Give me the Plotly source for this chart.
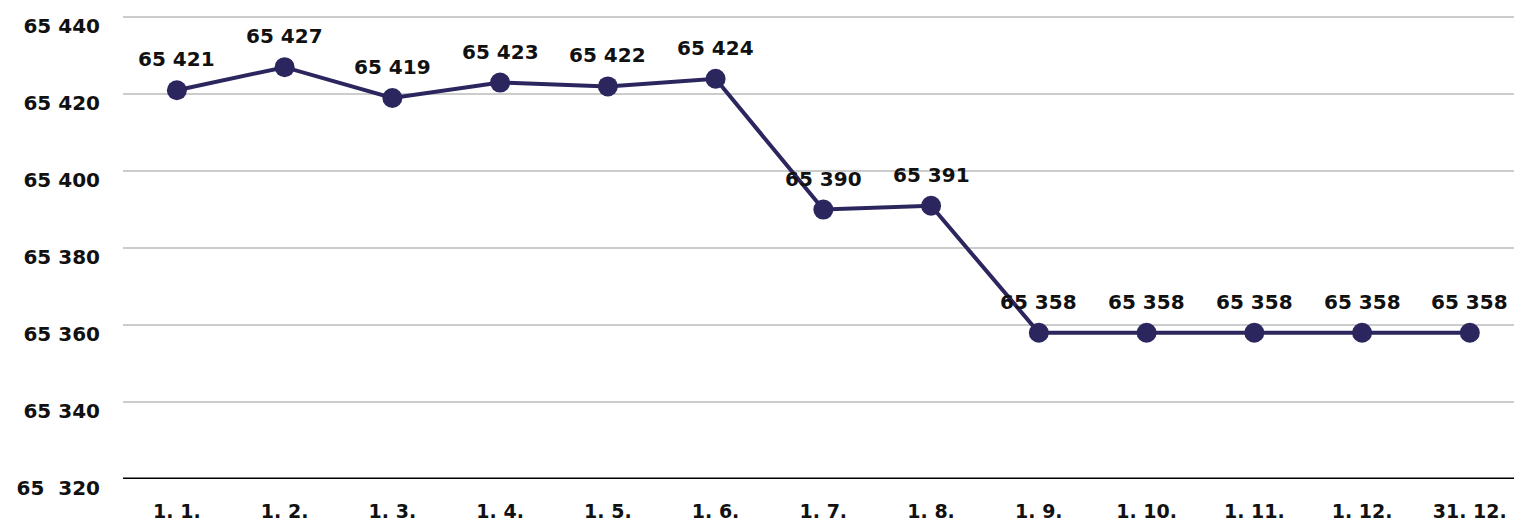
import plotly.graph_objects as go

categories = ["1. 1.", "1. 2.", "1. 3.", "1. 4.", "1. 5.", "1. 6.", "1. 7.", "1. 8.",
              "1. 9.", "1. 10.", "1. 11.", "1. 12.", "31. 12."]
values = [65421, 65427, 65419, 65423, 65422, 65424, 65390, 65391,
          65358, 65358, 65358, 65358, 65358]
y_tickvals = [65320, 65340, 65360, 65380, 65400, 65420, 65440]
y_ticktext = ["65\u00a0\u00a0320", "65 340", "65 360", "65 380", "65 400", "65 420", "65 440"]

labels = [f"{v:,}".replace(",", " ") for v in values]
color = "#2c265f"
FONT = "DejaVu Sans"
xs = list(range(len(categories)))

fig = go.Figure()
fig.add_trace(go.Scatter(
    x=xs, y=values,
    mode="lines+markers",
    line=dict(color=color, width=4),
    marker=dict(color=color, size=20),
    cliponaxis=False, showlegend=False, hoverinfo="skip",
))
for xi, v, t in zip(xs, values, labels):
    fig.add_annotation(x=xi, y=v, text=t, showarrow=False, yshift=31,
                       font=dict(family=FONT, size=20, color="#111", weight="bold"))

fig.update_layout(
    width=1514, height=521,
    margin=dict(l=123, r=0, t=16, b=42),
    paper_bgcolor="white", plot_bgcolor="white",
    font=dict(family=FONT, color="#111"),
    xaxis=dict(
        range=[-0.5, 12.41], tickvals=xs, ticktext=categories,
        showgrid=False, zeroline=False, showline=False, ticks="",
        tickfont=dict(size=19, family=FONT, weight="bold"),
        ticklabelstandoff=19, automargin=False,
    ),
    yaxis=dict(
        range=[65320, 65440.3], tickvals=y_tickvals, ticktext=y_ticktext,
        showgrid=True, gridcolor="#cccccc", gridwidth=2,
        zeroline=False, showline=False, ticks="",
        tickfont=dict(size=20, family=FONT, weight="bold"),
        ticklabelstandoff=22, ticklabelshift=9, automargin=False,
    ),
    shapes=[dict(type="line", xref="paper", yref="y", x0=0, x1=1, y0=65320, y1=65320,
                 line=dict(color="black", width=3))],
)

fig.write_html("out.html", config={"displayModeBar": False},
               post_script="document.body.style.margin='0';")
